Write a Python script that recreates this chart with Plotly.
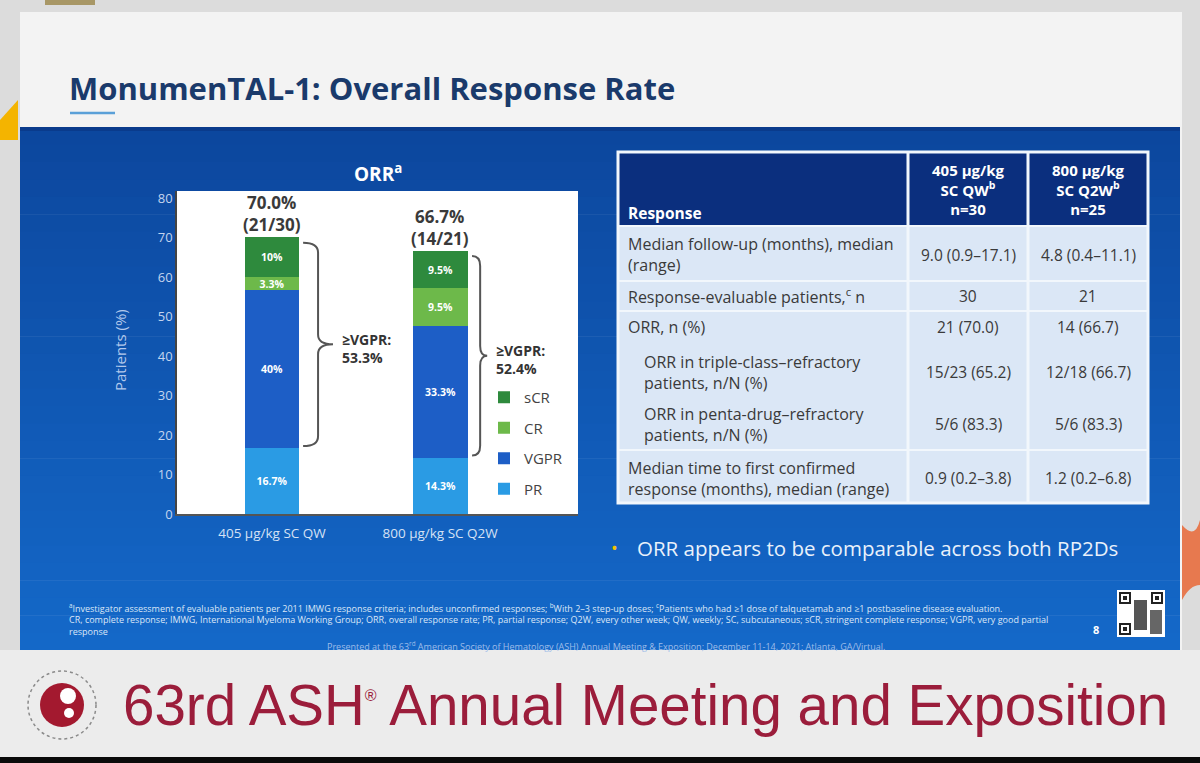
import plotly.graph_objects as go

W, H = 1200, 763

# ---- chart data ----
arms = ["405 µg/kg SC QW", "800 µg/kg SC Q2W"]
pr = [16.7, 14.3]
vgpr = [40.0, 33.3]
cr = [3.3, 9.5]
scr = [10.0, 9.5]
orr_pct = ["70.0%", "66.7%"]
orr_frac = ["(21/30)", "(14/21)"]
vgpr_or_better = ["53.3%", "52.4%"]
y_ticks = [0, 10, 20, 30, 40, 50, 60, 70, 80]

# ---- table data ----
table_header = ["Response", "405 µg/kg<br>SC QW<sup>b</sup><br>n=30", "800 µg/kg<br>SC Q2W<sup>b</sup><br>n=25"]
row_labels = [
    "Median follow-up (months), median<br>(range)",
    "Response-evaluable patients,<sup>c</sup> n",
    "ORR, n (%)",
    "ORR in triple-class–refractory<br>patients, n/N (%)",
    "ORR in penta-drug–refractory<br>patients, n/N (%)",
    "Median time to first confirmed<br>response (months), median (range)",
]
col_405 = ["9.0 (0.9–17.1)", "30", "21 (70.0)", "15/23 (65.2)", "5/6 (83.3)", "0.9 (0.2–3.8)"]
col_800 = ["4.8 (0.4–11.1)", "21", "14 (66.7)", "12/18 (66.7)", "5/6 (83.3)", "1.2 (0.2–6.8)"]

footnotes = [
    "<sup>a</sup>Investigator assessment of evaluable patients per 2011 IMWG response criteria; includes unconfirmed responses; "
    "<sup>b</sup>With 2–3 step-up doses; <sup>c</sup>Patients who had ≥1 dose of talquetamab and ≥1 postbaseline disease evaluation.",
    "CR, complete response; IMWG, International Myeloma Working Group; ORR, overall response rate; PR, partial response; "
    "Q2W, every other week; QW, weekly; SC, subcutaneous; sCR, stringent complete response; VGPR, very good partial",
    "response",
]

# ---- layout helpers (pixel -> paper) ----
def px(x):
    return x / W


def py(y):
    return 1 - y / H


FONT = "Open Sans"
shapes = []
annotations = []


def rect(x0, y0, x1, y1, fill, line=None, lw=0, layer="below"):
    shapes.append(dict(type="rect", xref="paper", yref="paper",
                       x0=px(x0), x1=px(x1), y0=py(y1), y1=py(y0),
                       fillcolor=fill, line=dict(color=line or fill, width=lw), layer=layer))


def hline(x0, x1, y, color, lw, layer="above"):
    shapes.append(dict(type="line", xref="paper", yref="paper", x0=px(x0), x1=px(x1),
                       y0=py(y), y1=py(y), line=dict(color=color, width=lw), layer=layer))


def vline(x, y0, y1, color, lw, layer="above"):
    shapes.append(dict(type="line", xref="paper", yref="paper", x0=px(x), x1=px(x),
                       y0=py(y0), y1=py(y1), line=dict(color=color, width=lw), layer=layer))


def text(x, y, s, size, color, xanchor="left", bold=False, family=FONT, angle=0):
    if bold:
        s = "<b>" + s + "</b>"
    annotations.append(dict(xref="paper", yref="paper", x=px(x), y=py(y), text=s, showarrow=False,
                            xanchor=xanchor, yanchor="middle", align=xanchor if xanchor != "center" else "center",
                            textangle=angle, borderpad=0,
                            font=dict(family=family, size=size, color=color)))


def mix(c0, c1, t):
    a = [int(c0[i:i + 2], 16) for i in (1, 3, 5)]
    b = [int(c1[i:i + 2], 16) for i in (1, 3, 5)]
    return "#" + "".join(f"{round(p + (q - p) * t):02x}" for p, q in zip(a, b))


# ---- slide background ----
rect(0, 0, 1200, 763, "#dcdcdc")
rect(20, 12, 1182, 650, "#f3f3f3")
rect(45, 0, 95, 5, "#a89766")
shapes.append(dict(type="path", xref="paper", yref="paper", layer="below",
                   path=f"M {px(0)},{py(120)} L {px(18)},{py(100)} L {px(18)},{py(140)} L {px(0)},{py(140)} Z",
                   fillcolor="#f4b400", line=dict(width=0)))
# orange arc at right edge
shapes.append(dict(type="path", xref="paper", yref="paper", layer="below",
                   path=f"M {px(1182)},{py(525)} Q {px(1195)},{py(540)} {px(1200)},{py(520)} L {px(1200)},{py(585)} Q {px(1190)},{py(585)} {px(1182)},{py(600)} Z",
                   fillcolor="#e7794f", line=dict(width=0)))
# blue content panel drawn as a vertical gradient
n_bands = 30
top, bot = 127, 650
for k in range(n_bands):
    y0 = top + (bot - top) * k / n_bands
    y1 = top + (bot - top) * (k + 1) / n_bands + 0.6
    rect(20, y0, 1180, min(y1, bot), mix("#0c479e", "#1468c8", k / (n_bands - 1)))
rect(20, 127, 1180, 131, "#0a3b8c")
# bottom area
rect(0, 650, 1200, 763, "#ececec")
rect(0, 757, 1200, 763, "#0a0a0a")

# title
text(68, 88, "MonumenTAL-1: Overall Response Rate", 31, "#1a3a6b", bold=True)
hline(70, 115, 113, "#5aa0d8", 2.5, layer="below")

# ---- chart area ----
PLOT_L, PLOT_R, PLOT_T, PLOT_B = 177, 578, 191, 514
rect(PLOT_L, PLOT_T, PLOT_R, PLOT_B, "#ffffff")
text(378, 173, "ORR<sup>a</sup>", 19, "#ffffff", xanchor="center", bold=True)
text(120, 350, "Patients (%)", 15, "#b3c9ec", xanchor="center", angle=-90)

colors = {"PR": "#2a9be4", "VGPR": "#1d5ec6", "CR": "#6db94a", "sCR": "#2e8a3d"}
series = [("PR", pr), ("VGPR", vgpr), ("CR", cr), ("sCR", scr)]
legend_rank = {"sCR": 1, "CR": 2, "VGPR": 3, "PR": 4}

fig = go.Figure()
xpos = list(range(len(arms)))
for name, vals in series:
    fig.add_trace(go.Bar(
        x=xpos, y=vals, name=name, legendgroup=name, legendrank=legend_rank[name],
        marker=dict(color=colors[name], line=dict(width=0)),
        width=0.327,
        text=[f"{v:g}%" for v in vals],
        textposition="inside", insidetextanchor="middle", textangle=0,
        textfont=dict(family=FONT, size=10.5, color="#ffffff", weight="bold"),
        hovertemplate="%{y}%<extra>" + name + "</extra>",
    ))

# totals above bars
for i in xpos:
    total = pr[i] + vgpr[i] + cr[i] + scr[i]
    fig.add_annotation(x=i, y=total, xref="x", yref="y", yshift=-1, yanchor="bottom",
                       text=f"<b>{orr_pct[i]}<br>{orr_frac[i]}</b>", showarrow=False,
                       font=dict(family=FONT, size=17, color="#3a3a3a"))

# braces for >=VGPR
brace_geom = [(0.185, 0.274, 0.363), (0.19, 0.238, 0.28)]
for i in xpos:
    xs, xm, xt = brace_geom[i]
    total = pr[i] + vgpr[i] + cr[i] + scr[i]
    y_lo = pr[i] + 0.5
    y_hi = total - 1.3
    ym = (y_lo + y_hi) / 2
    r = 2.5
    path = (f"M {i + xs},{y_hi} Q {i + xm},{y_hi} {i + xm},{y_hi - r} "
            f"L {i + xm},{ym + r} Q {i + xm},{ym} {i + xt},{ym} "
            f"Q {i + xm},{ym} {i + xm},{ym - r} L {i + xm},{y_lo + r} "
            f"Q {i + xm},{y_lo} {i + xs},{y_lo}")
    fig.add_shape(type="path", xref="x", yref="y", path=path,
                  line=dict(color="#555555", width=2), layer="above")
    fig.add_annotation(x=i + xt + 0.04, y=ym - 1, xref="x", yref="y", xanchor="left",
                       text=f"<b>≥VGPR:<br>{vgpr_or_better[i]}</b>", showarrow=False, align="left",
                       font=dict(family=FONT, size=14, color="#333333"))

# ---- table ----
TX = [618, 908, 1028, 1148]
TY = [152, 226, 281, 311, 450, 503]
rect(TX[0], TY[0], TX[3], TY[1], "#0b2f7e", layer="above")
rect(TX[0], TY[1], TX[3], TY[-1], "#dbe7f6", layer="above")
for y in TY[1:-1]:
    hline(TX[0], TX[3], y, "#f2f7fc", 2)
for x in TX[1:-1]:
    vline(x, TY[0], TY[-1], "#f2f7fc", 3)
rect(TX[0], TY[0], TX[3], TY[-1], "rgba(0,0,0,0)", line="#f2f7fc", lw=3, layer="above")

col_centers = [(TX[1] + TX[2]) / 2, (TX[2] + TX[3]) / 2]
text(627, 213, table_header[0], 15.5, "#ffffff", bold=True)
for c, hdr in zip(col_centers, table_header[1:]):
    text(c, 189, hdr, 15, "#ffffff", xanchor="center", bold=True)

row_y = [255, 296, 327, 372, 424, 478]
row_indent = [0, 0, 0, 16, 16, 0]
for lab, ind, y, v1, v2 in zip(row_labels, row_indent, row_y, col_405, col_800):
    text(627 + ind, y, lab, 16, "#3a3a3a")
    text(col_centers[0], y, v1, 15.5, "#3a3a3a", xanchor="center")
    text(col_centers[1], y, v2, 15.5, "#3a3a3a", xanchor="center")

# key message
text(614, 548, "•", 18, "#f2c200", xanchor="center")
text(636, 548, "ORR appears to be comparable across both RP2Ds", 20.5, "#e9f1fb")

# footnotes (one block so the lines keep an even spacing)
text(68, 619, "<br>".join(footnotes), 9, "#dbe6f7")
text(606, 646, "Presented at the 63<sup>rd</sup> American Society of Hematology (ASH) Annual Meeting &amp; Exposition; "
     "December 11-14, 2021; Atlanta, GA/Virtual.", 9, "#9fbde8", xanchor="center")
text(1096, 629, "8", 11, "#ffffff", xanchor="center", bold=True)

# QR code placeholder
rect(1117, 590, 1165, 637, "#ffffff", layer="above")
for qx, qy in [(1119, 592), (1151, 592), (1119, 623)]:
    rect(qx, qy, qx + 12, qy + 12, "#222222", layer="above")
    rect(qx + 2, qy + 2, qx + 10, qy + 10, "#ffffff", layer="above")
    rect(qx + 4, qy + 4, qx + 8, qy + 8, "#222222", layer="above")
rect(1134, 600, 1147, 630, "#555555", layer="above")
rect(1150, 610, 1162, 634, "#666666", layer="above")

# ---- bottom banner ----
shapes.append(dict(type="circle", xref="paper", yref="paper", x0=px(28), x1=px(96), y0=py(739), y1=py(671),
                   line=dict(color="#8a8a8a", width=1.5, dash="dot"), layer="above"))
shapes.append(dict(type="circle", xref="paper", yref="paper", x0=px(40), x1=px(84), y0=py(727), y1=py(683),
                   fillcolor="#a3192f", line=dict(width=0), layer="above"))
shapes.append(dict(type="circle", xref="paper", yref="paper", x0=px(60), x1=px(76), y0=py(704), y1=py(688),
                   fillcolor="#ffffff", line=dict(width=0), layer="above"))
shapes.append(dict(type="circle", xref="paper", yref="paper", x0=px(64), x1=px(74), y0=py(718), y1=py(708),
                   fillcolor="#ffffff", line=dict(width=0), layer="above"))
text(122, 705, "63rd ASH<sup><span style='font-size:16px'>®</span></sup> Annual Meeting and Exposition",
     56.5, "#9b1d3b", family="Liberation Sans")

fig.update_layout(
    width=W, height=H,
    margin=dict(l=0, r=0, t=0, b=0, pad=0, autoexpand=False),
    paper_bgcolor="#0a0a0a",
    plot_bgcolor="rgba(0,0,0,0)",
    barmode="stack",
    bargap=0,
    shapes=list(fig.layout.shapes) + shapes,
    annotations=list(fig.layout.annotations) + annotations,
    uniformtext=dict(minsize=10, mode="show"),
    xaxis=dict(domain=[px(PLOT_L), px(PLOT_R)], range=[-0.565, 1.82], automargin=False,
               tickvals=xpos, ticktext=arms, showgrid=False, zeroline=False,
               showline=True, linecolor="#555555", linewidth=1.5,
               ticks="outside", ticklen=6, tickcolor="rgba(0,0,0,0)",
               tickfont=dict(family=FONT, size=13.5, color="#d6e2f5"), fixedrange=True),
    yaxis=dict(domain=[py(PLOT_B), py(PLOT_T)], range=[0, 81.77], automargin=False,
               tickvals=y_ticks, showgrid=False, zeroline=False,
               showline=True, linecolor="#444444", linewidth=1.5,
               tickfont=dict(family=FONT, size=13, color="#c3d4ee"), fixedrange=True),
    legend=dict(x=px(484), y=py(381), xanchor="left", yanchor="top",
                traceorder="grouped", tracegroupgap=8,
                bgcolor="rgba(0,0,0,0)", font=dict(family=FONT, size=15, color="#444444"),
                itemclick=False, itemdoubleclick=False),
)

# page body has a default 8px margin; drop it so the figure sits at the window origin
page_fix = (
    "document.documentElement.style.overflow='hidden';"
    "document.body.style.margin='0';"
    "document.body.style.overflow='hidden';"
    "document.body.style.background='#0a0a0a';"
)
fig.write_html("out.html", config={"displayModeBar": False}, post_script=page_fix)
